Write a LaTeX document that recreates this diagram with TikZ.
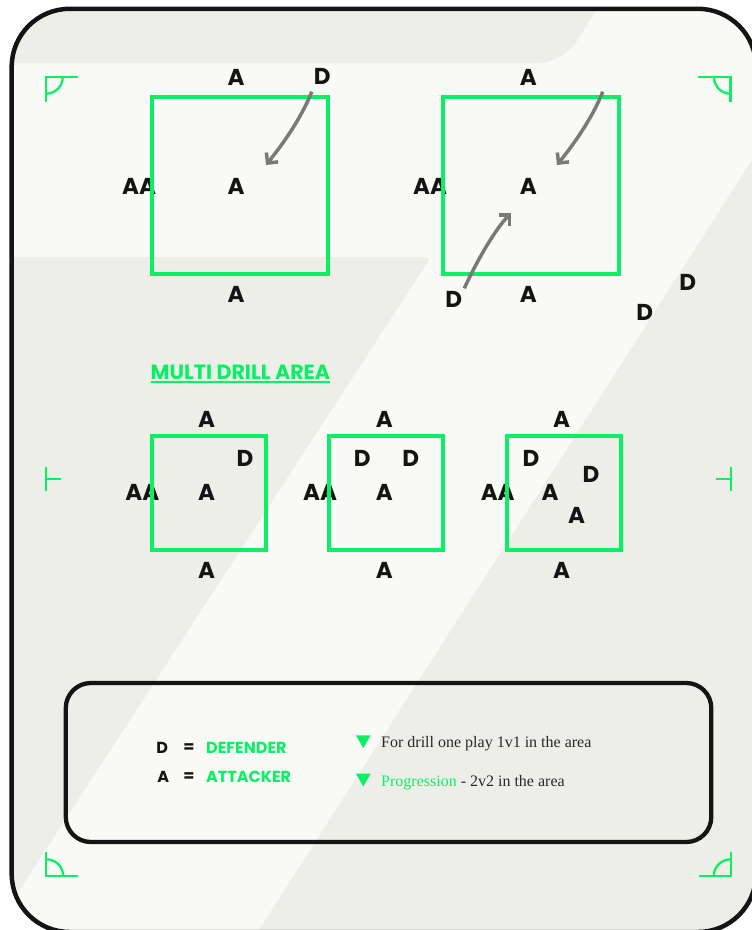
\documentclass[tikz,border=0pt]{standalone}
\usepackage{fontspec}
\usetikzlibrary{arrows.meta,calc}
\setmainfont{Liberation Serif}
\newfontfamily\popfont{Poppins}
\definecolor{bglight}{RGB}{249,250,245}
\definecolor{bgdark}{RGB}{238,238,233}
\definecolor{pitchgreen}{RGB}{10,240,100}
\definecolor{ink}{RGB}{20,20,20}
\definecolor{arrowgray}{RGB}{122,122,116}
\definecolor{serifink}{RGB}{40,40,40}
\begin{document}
\begin{tikzpicture}[x=1pt,y=-1pt,
  lab/.style={inner sep=0pt, text=ink, font=\popfont\bfseries\fontsize{23}{23}\selectfont},
  legtxt/.style={inner sep=0pt, text=ink, font=\popfont\bfseries\fontsize{16}{16}\selectfont},
  leggreen/.style={legtxt, text=pitchgreen, anchor=west},
  bigpitch/.style={draw=pitchgreen, line width=4pt, inner sep=0pt, minimum width=176pt, minimum height=177pt},
  smallpitch/.style={draw=pitchgreen, line width=4pt, inner sep=0pt, minimum width=114.2pt, minimum height=114.1pt},
  cornermark/.style={draw=pitchgreen, line width=2.3pt},
  runarrow/.style={draw=arrowgray, line width=3.5pt, -{Straight Barb[length=7.5pt,width=15pt]}},
  notetxt/.style={inner sep=0pt, text=serifink, font=\fontsize{16}{16}\selectfont, anchor=base west}
]
\useasboundingbox (0,0) rectangle (752,930);
\clip (0,0) rectangle (752,930);
\fill[white] (0,0) rectangle (752,930);
% background
\begin{scope}
  \clip[rounded corners=58pt] (11.7,8.8) rectangle (756,932);
  \fill[bglight] (0,0) rectangle (760,940);
  \fill[bgdark, rounded corners=25pt] (-30,-30) -- (622,-30) -- (563,63) -- (-30,63) -- cycle;
  \fill[bgdark, rounded corners=5pt] (-60,257) -- (431,257) -- (-39,980) -- (-60,980) -- cycle;
  \fill[bgdark] (816,60) -- (900,60) -- (900,980) -- (227,980) -- cycle;
\end{scope}
\draw[ink, line width=4.5pt, rounded corners=58pt] (11.7,8.8) rectangle (756,932);

% corner marks (y axis points down: angle 90 = down, 270 = up)
\draw[cornermark] (46.2,101.7) -- (46.2,77.2) -- (78.3,77.2);
\draw[cornermark] (62.7,77.2) arc[start angle=0, end angle=90, radius=16.5];
\draw[cornermark] (698.3,77.2) -- (730.5,77.2) -- (730.5,101.7);
\draw[cornermark] (730.5,93.7) arc[start angle=90, end angle=180, radius=16.5];
\draw[cornermark] (46.3,852.3) -- (46.3,876.3) -- (78.3,876.3);
\draw[cornermark] (46.3,859.3) arc[start angle=270, end angle=360, radius=17];
\draw[cornermark] (698.7,876.3) -- (730.7,876.3) -- (730.7,852.3);
\draw[cornermark] (713.7,876.3) arc[start angle=180, end angle=270, radius=17];
\draw[cornermark] (46.3,466.5) -- (46.3,491);
\draw[cornermark] (46.3,479) -- (60.7,479);
\draw[cornermark] (730.7,466.5) -- (730.7,491);
\draw[cornermark] (730.7,479) -- (716,479);

% top drills: labels
\node[lab] (t1top) at (236,77.3) {A};
\node[lab] (t1d) at (322.3,76) {D};
\node[lab] (t1aa) at (139,186) {AA};
\node[lab] (t1mid) at (236,186) {A};
\node[lab] (t1bot) at (236,294) {A};
\node[lab] (t2top) at (528.3,77.3) {A};
\node[lab] (t2aa) at (430,186) {AA};
\node[lab] (t2mid) at (528.3,186) {A};
\node[lab] (t2bot) at (528.3,294) {A};
\node[lab] (t2d) at (453.7,299.3) {D};
\node[lab] (sd1) at (687.7,282.7) {D};
\node[lab] (sd2) at (644.7,312.7) {D};
\node[bigpitch] (pitch1) at (240.3,185.8) {};
\node[bigpitch] (pitch2) at (531.1,185.5) {};

% arrows
\coordinate (r1s) at (311.8,91.7);
\coordinate (r1e) at (266,165);
\coordinate (r2s) at (602.8,91.7);
\coordinate (r2e) at (557,165);
\coordinate (r3s) at (464.3,288.3);
\coordinate (r3e) at (511,213.3);
\draw[runarrow] (r1s) .. controls (300.6,119.7) and (281.6,145.5) .. (r1e);
\draw[runarrow] (r2s) .. controls (591.6,119.7) and (572.6,145.5) .. (r2e);
\draw[runarrow] (r3s) .. controls (476.8,261) and (495.4,228.9) .. (r3e);

% multi drill area
\node[inner sep=0pt, anchor=base west, text=pitchgreen, font=\popfont\bfseries\fontsize{20.6}{20.6}\selectfont] (mda) at (150.5,379.3) {MULTI DRILL AREA};
\draw[pitchgreen, line width=1.5pt] ($(mda.base west)+(0,2.8)$) -- ($(mda.base east)+(0,2.8)$);

% bottom drills
\node[lab] (b1top) at (206.7,419.3) {A};
\node[lab] (b1d) at (245,458.3) {D};
\node[lab] (b1aa) at (142.3,492.7) {AA};
\node[lab] (b1mid) at (206.7,492.7) {A};
\node[lab] (b1bot) at (206.7,570) {A};
\node[lab] (b2top) at (384.3,419.3) {A};
\node[lab] (b2d1) at (362.3,458.3) {D};
\node[lab] (b2d2) at (410.7,458.3) {D};
\node[lab] (b2aa) at (320,492.7) {AA};
\node[lab] (b2mid) at (384.3,492.7) {A};
\node[lab] (b2bot) at (384.3,570) {A};
\node[lab] (b3top) at (561.7,419.3) {A};
\node[lab] (b3d1) at (531,458.3) {D};
\node[lab] (b3d2) at (591,474) {D};
\node[lab] (b3aa) at (497.7,492.7) {AA};
\node[lab] (b3mid) at (550,492.7) {A};
\node[lab] (b3a2) at (576.7,515) {A};
\node[lab] (b3bot) at (561.7,570) {A};
\node[smallpitch] (pitch3) at (208.6,492.75) {};
\node[smallpitch] (pitch4) at (386,492.75) {};
\node[smallpitch] (pitch5) at (563.85,492.75) {};

% legend
\node[draw=ink, line width=4.3pt, rounded corners=25pt, inner sep=0pt, minimum width=645.5pt, minimum height=159pt] (legend) at (388.55,762.5) {};
\node[legtxt] (kd) at (162.3,748.3) {D};
\node[legtxt] (keq1) at (189,748.3) {=};
\node[leggreen] (kdef) at (206,748.3) {DEFENDER};
\node[legtxt] (ka) at (163.3,776.7) {A};
\node[legtxt] (keq2) at (189,776.7) {=};
\node[leggreen] (katt) at (206,776.7) {ATTACKER};
\fill[pitchgreen] (355.95,735.35) -- (370.65,735.35) -- (363.3,748.05) -- cycle;
\fill[pitchgreen] (355.95,773.65) -- (370.65,773.65) -- (363.3,786.35) -- cycle;
\node[notetxt] (n1) at (381,747.7) {For drill one play 1v1 in the area};
\node[notetxt] (n2) at (381,786) {\textcolor{pitchgreen}{Progression} - 2v2 in the area};
\end{tikzpicture}
\end{document}
